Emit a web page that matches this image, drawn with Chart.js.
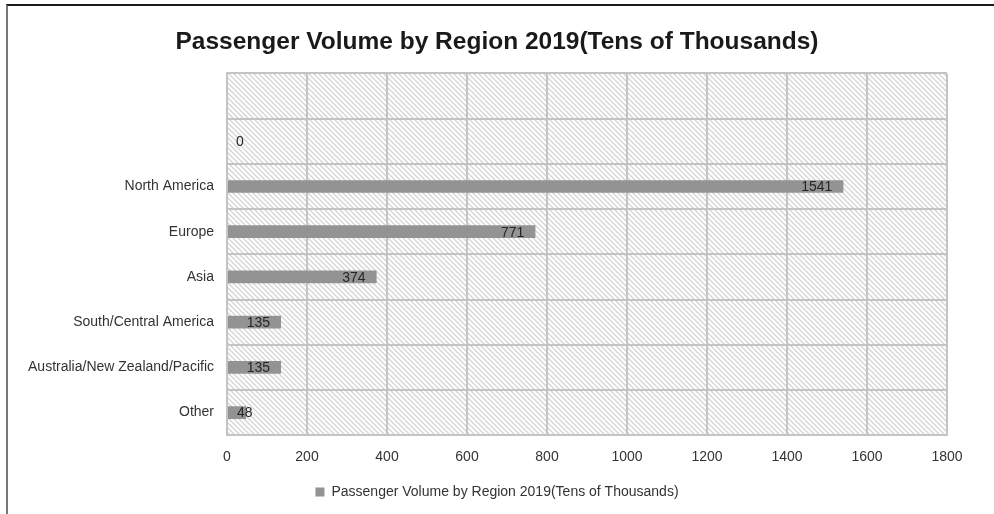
<!DOCTYPE html>
<html>
<head>
<meta charset="utf-8">
<script src="https://cdn.jsdelivr.net/npm/chart.js@4"></script>
<style>
    html, body { margin: 0; padding: 0; background: #fff; }
    .frame { position: absolute; left: 6px; top: 4px; width: 988px; height: 510px; border-left: 2px solid #777; border-top: 2px solid #1a1a1a; }
    .wrap { position: absolute; left: 0; top: 0; width: 994px; height: 514px; }
</style>
</head>
<body>
<div class="frame"></div>
<div class="wrap"><canvas id="barChart" width="994" height="514"></canvas></div>
<script>
//============================================= Data =============================================//
const regions = ['', ' ', 'North America', 'Europe', 'Asia', 'South/Central America', 'Australia/New Zealand/Pacific', 'Other'];
const passengers = [null, 0, 1541, 771, 374, 135, 135, 48];
const seriesName = 'Passenger Volume by Region 2019(Tens of Thousands)';
const xTicks = [0, 200, 400, 600, 800, 1000, 1200, 1400, 1600, 1800];

const FONT = "'Liberation Sans', 'DejaVu Sans', sans-serif";
Chart.defaults.font.family = FONT;
Chart.defaults.font.size = 14;
Chart.defaults.color = '#333';

// hatched plot background
function makeHatch() {
    const c = document.createElement('canvas');
    c.width = 5;
    c.height = 5;
    const g = c.getContext('2d');
    g.fillStyle = '#fff';
    g.fillRect(0, 0, 5, 5);
    g.strokeStyle = '#d4d4d4';
    g.lineWidth = 1.3;
    g.beginPath();
    g.moveTo(-1, -1); g.lineTo(6, 6);
    g.moveTo(-1, 4); g.lineTo(1, 6);
    g.moveTo(4, -1); g.lineTo(6, 1);
    g.stroke();
    return g.createPattern(c, 'repeat');
}

const hatchBg = {
    id: 'hatchBg',
    beforeDraw(chart) {
        const { ctx, chartArea } = chart;
        ctx.save();
        ctx.fillStyle = makeHatch();
        ctx.fillRect(chartArea.left, chartArea.top, chartArea.right - chartArea.left, chartArea.bottom - chartArea.top);
        ctx.restore();
    }
};

// value labels, inside end like excel
const valueLabels = {
    id: 'valueLabels',
    afterDatasetsDraw(chart) {
        const { ctx } = chart;
        const meta = chart.getDatasetMeta(0);
        ctx.save();
        ctx.font = '14px ' + FONT;
        ctx.fillStyle = '#262626';
        ctx.textBaseline = 'middle';
        ctx.textAlign = 'left';
        meta.data.forEach((bar, i) => {
            const v = passengers[i];
            if (v === null) return;
            const txt = String(v);
            const w = ctx.measureText(txt).width;
            const x = Math.max(bar.x - 11 - w, bar.base + 9);
            ctx.fillText(txt, x, bar.y + 1);
        });
        ctx.restore();
    }
};

const barConfig = {
    type: 'bar',
    data: {
        labels: regions,
        datasets: [{
            label: seriesName,
            data: passengers,
            backgroundColor: '#939393',
            barPercentage: 0.28,
            categoryPercentage: 1
        }]
    },
    options: {
        indexAxis: 'y',
        responsive: false,
        animation: false,
        layout: {
            padding: { left: 0, right: 0, top: 0, bottom: 5 }
        },
        plugins: {
            tooltip: { enabled: false },
            legend: {
                position: 'bottom',
                labels: {
                    boxWidth: 9,
                    boxHeight: 9,
                    padding: 5,
                    color: '#333',
                    font: { size: 14 }
                }
            },
            title: {
                display: true,
                text: 'Passenger Volume by Region 2019(Tens of Thousands)',
                color: '#1a1a1a',
                padding: { top: 28, bottom: 16 },
                font: { size: 24.5, weight: 'bold' }
            }
        },
        scales: {
            x: {
                min: 0,
                max: 1800,
                afterBuildTicks: (scale) => {
                    scale.ticks = xTicks.map(v => ({ value: v }));
                },
                grid: {
                    color: '#c4c4c4',
                    lineWidth: 2,
                    drawTicks: false
                },
                border: { color: '#c4c4c4', width: 2 },
                ticks: { padding: 14, color: '#333', callback: (v) => String(v) }
            },
            y: {
                afterFit: (scale) => { scale.width = 227; },
                grid: {
                    offset: true,
                    color: '#c4c4c4',
                    lineWidth: 2,
                    drawTicks: false
                },
                border: { color: '#c4c4c4', width: 2 },
                ticks: { padding: 13, color: '#333', autoSkip: false }
            },
            // empty right margin so title and legend stay centred on the whole canvas
            yRight: {
                position: 'right',
                afterFit: (scale) => { scale.width = 47; },
                grid: { display: false },
                border: { display: false },
                ticks: { display: false }
            }
        }
    },
    plugins: [hatchBg, valueLabels]
};

new Chart(document.getElementById('barChart'), barConfig);
</script>
</body>
</html>
